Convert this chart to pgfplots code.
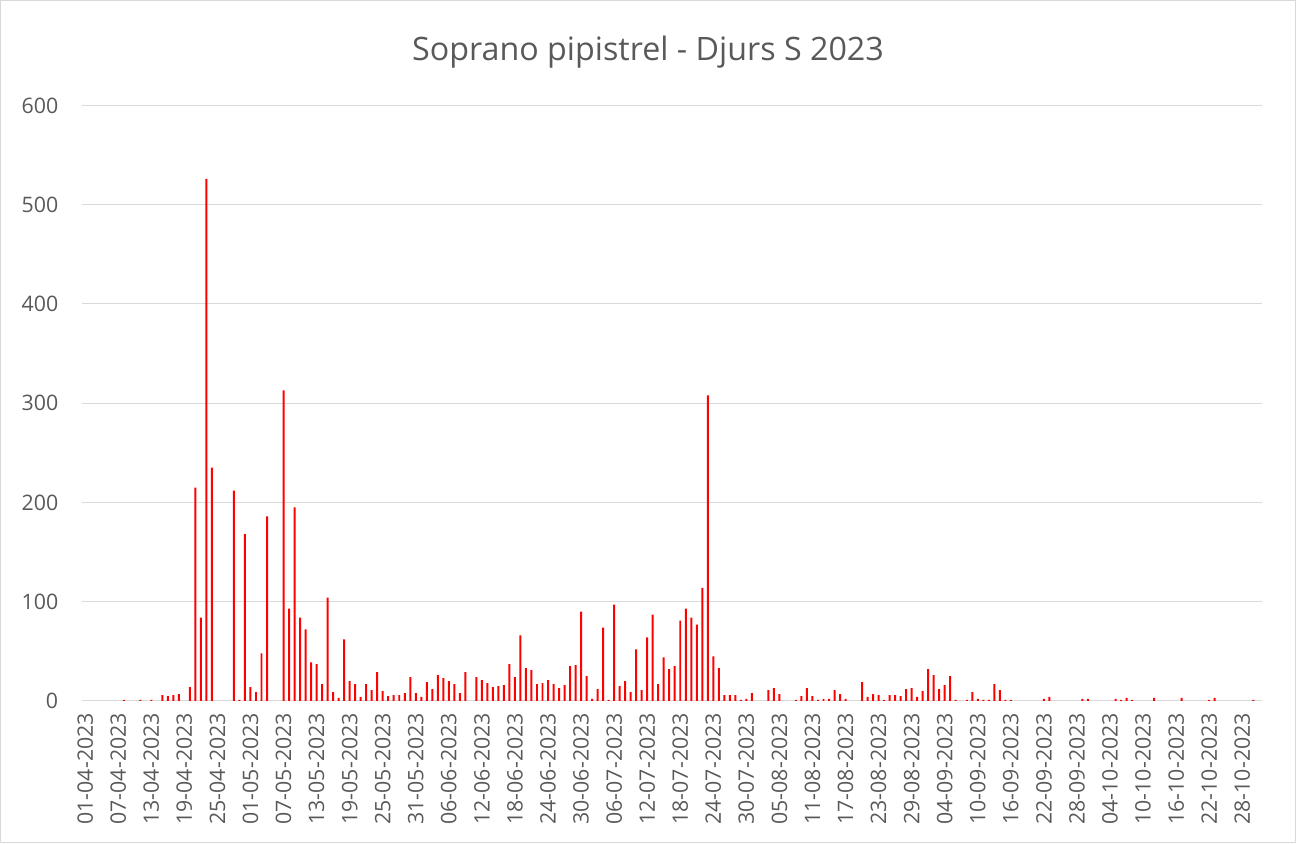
\documentclass[border=0pt]{standalone}
\usepackage{pgfplots}
\pgfplotsset{compat=1.18}
\usepackage{fontspec}
\setmainfont{Open Sans}
\definecolor{txtgray}{HTML}{595959}
\definecolor{gridgray}{HTML}{D9D9D9}
\definecolor{barred}{HTML}{FF0000}
\begin{document}
\begin{tikzpicture}
\draw[gridgray, line width=0.75pt] (-61.5pt,-106.5pt) rectangle (910.5pt,525.75pt);
\begin{axis}[
  at={(0,0)}, anchor=south west,
  scale only axis,
  width=885pt, height=447pt,
  xmin=-0.5, xmax=213.5,
  ymin=0, ymax=600,
  ytick={0,100,...,600},
  xtick={0,6,...,210},
  xticklabels={01-04-2023,07-04-2023,13-04-2023,19-04-2023,25-04-2023,01-05-2023,07-05-2023,13-05-2023,19-05-2023,25-05-2023,31-05-2023,06-06-2023,12-06-2023,18-06-2023,24-06-2023,30-06-2023,06-07-2023,12-07-2023,18-07-2023,24-07-2023,30-07-2023,05-08-2023,11-08-2023,17-08-2023,23-08-2023,29-08-2023,04-09-2023,10-09-2023,16-09-2023,22-09-2023,28-09-2023,04-10-2023,10-10-2023,16-10-2023,22-10-2023,28-10-2023},
  axis line style={draw=none},
  major tick length=0pt,
  ymajorgrids=true,
  grid style={gridgray, line width=0.75pt},
  /pgf/number format/assume math mode=true,
  tick label style={font=\fontsize{16}{19}\selectfont, text=txtgray},
  yticklabel style={anchor=east, inner sep=0pt, xshift=-18pt},
  xticklabel style={yshift=-9pt, rotate=90, anchor=east, inner sep=0pt},
]
\addplot[ybar, fill=barred, draw=none, bar width=0.36] coordinates {
(7,1)(10,1)(12,1)(14,6)(15,5)(16,6)(17,7)(19,14)(20,215)(21,84)(22,526)(23,235)(27,212)(28,1)(29,168)(30,14)(31,9)(32,48)(33,186)(36,313)(37,93)(38,195)(39,84)(40,72)(41,39)(42,37)(43,17)(44,104)(45,9)(46,3)(47,62)(48,20)(49,17)(50,4)(51,17)(52,11)(53,29)(54,10)(55,5)(56,6)(57,6)(58,8)(59,24)(60,8)(61,4)(62,19)(63,12)(64,26)(65,23)(66,20)(67,17)(68,8)(69,29)(71,24)(72,21)(73,18)(74,14)(75,15)(76,16)(77,37)(78,24)(79,66)(80,33)(81,31)(82,17)(83,18)(84,21)(85,17)(86,13)(87,16)(88,35)(89,36)(90,90)(91,25)(92,2)(93,12)(94,74)(95,1)(96,97)(97,15)(98,20)(99,9)(100,52)(101,11)(102,64)(103,87)(104,17)(105,44)(106,32)(107,35)(108,81)(109,93)(110,84)(111,77)(112,114)(113,308)(114,45)(115,33)(116,6)(117,6)(118,6)(119,1)(120,2)(121,8)(124,11)(125,13)(126,7)(129,1)(130,5)(131,13)(132,5)(133,1)(134,2)(135,2)(136,11)(137,7)(138,2)(141,19)(142,4)(143,7)(144,6)(145,1)(146,6)(147,6)(148,5)(149,12)(150,13)(151,4)(152,10)(153,32)(154,26)(155,12)(156,16)(157,25)(158,1)(160,1)(161,9)(162,2)(163,1)(164,1)(165,17)(166,11)(167,1)(168,1)(174,2)(175,4)(181,2)(182,2)(187,2)(188,1)(189,3)(190,1)(194,3)(199,3)(204,1)(205,3)(212,1)
};
\end{axis}
\node[anchor=base, text=txtgray, font=\fontsize{24.2}{29}\selectfont, inner sep=0pt] at (424.5pt,480.75pt) {Soprano pipistrel - Djurs S 2023};
\end{tikzpicture}
\end{document}
